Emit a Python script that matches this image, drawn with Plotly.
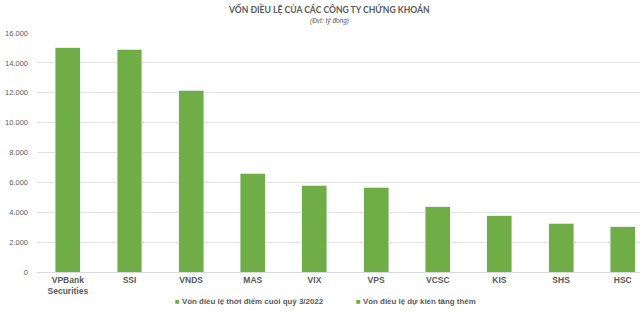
import plotly.graph_objects as go

categories = ["VPBank<br>Securities", "SSI", "VNDS", "MAS", "VIX", "VPS", "VCSC", "KIS", "SHS", "HSC"]
von_q3_2022 = [15000, 14900, 12177, 6600, 5820, 5690, 4370, 3750, 3260, 3030]
von_tang_them = [0, 0, 0, 0, 0, 0, 0, 0, 0, 0]
y_ticks = [0, 2000, 4000, 6000, 8000, 10000, 12000, 14000, 16000]
y_tick_labels = ["0", "2.000", "4.000", "6.000", "8.000", "10.000", "12.000", "14.000", "16.000"]

green = "#70AD47"
green2 = "#70AD47"
txt = "#595959"

fig = go.Figure()
fig.add_trace(go.Bar(x=categories, y=von_q3_2022, name="Vốn điều lệ thời điểm cuối quý 3/2022",
                     marker_color=green, width=0.405))
fig.add_trace(go.Bar(x=categories, y=von_tang_them, name="Vốn điều lệ dự kiến tăng thêm",
                     marker_color=green2, width=0.405))

fig.update_layout(
    barmode="stack",
    width=640, height=318,
    margin=dict(l=37, r=0, t=33, b=46),
    plot_bgcolor="white", paper_bgcolor="white",
    showlegend=False,
    font=dict(family="Liberation Sans, Arial, sans-serif", color=txt, size=8),
    xaxis=dict(range=[-0.5, 9.28], showgrid=False, showline=True, linecolor="#D9D9D9",
               ticks="", tickfont=dict(size=8.5, color=txt, family="Liberation Sans, Arial"),
               tickprefix="<b>", ticksuffix="</b>"),
    yaxis=dict(range=[0, 16000], tickvals=y_ticks, ticktext=y_tick_labels,
               showgrid=True, gridcolor="#E3E3E3", zeroline=False, ticks="",
               tickfont=dict(size=7.5, color=txt), ticklabelstandoff=8),
)

fig.add_annotation(text="<b>VỐN ĐIỀU LỆ CỦA CÁC CÔNG TY CHỨNG KHOÁN</b>", xref="paper", yref="paper",
                   x=(329 - 37) / 603, y=1, yshift=24, yanchor="middle", showarrow=False,
                   font=dict(size=8.6, color=txt, family="Lato, Liberation Sans, Arial"))
fig.add_annotation(text="<i>(Đvt: tỷ đồng)</i>", xref="paper", yref="paper",
                   x=(329 - 37) / 603, y=1, yshift=13, yanchor="middle", showarrow=False,
                   font=dict(size=6.5, color=txt))

legend_y_shift = -29
fig.add_annotation(text="<span style='color:%s'>■</span> <b>Vốn điều lệ thời điểm cuối quý 3/2022</b>" % green,
                   xref="paper", yref="paper", x=(173 - 37) / 603, y=0, yshift=legend_y_shift,
                   xanchor="left", yanchor="middle", showarrow=False,
                   font=dict(size=7.9, color=txt))
fig.add_annotation(text="<span style='color:%s'>■</span> <b>Vốn điều lệ dự kiến tăng thêm</b>" % green2,
                   xref="paper", yref="paper", x=(354 - 37) / 603, y=0, yshift=legend_y_shift,
                   xanchor="left", yanchor="middle", showarrow=False,
                   font=dict(size=7.9, color=txt))

fig.write_html("out.html")
